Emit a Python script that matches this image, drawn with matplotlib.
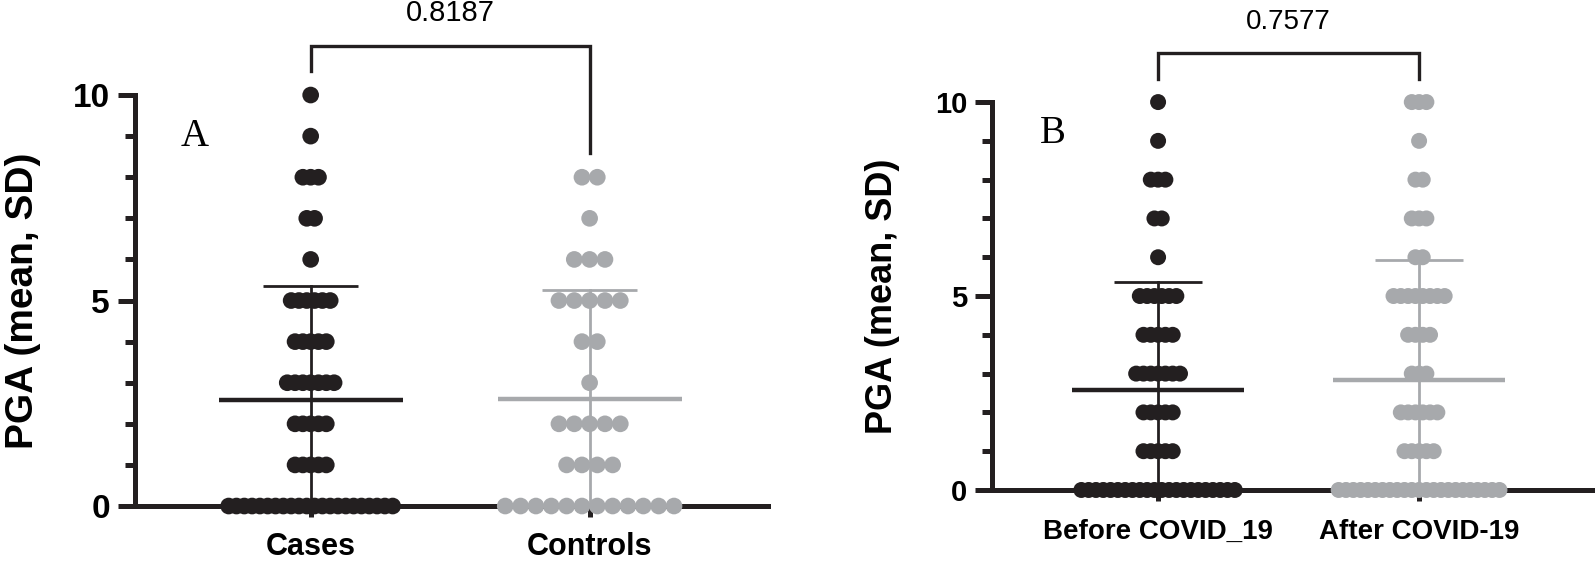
import numpy as np
import matplotlib.pyplot as plt
from matplotlib.ticker import MultipleLocator

# PGA scores: value -> number of dots in that row
pga_values = [10, 9, 8, 7, 6, 5, 4, 3, 2, 1, 0]
cases_counts = [1, 1, 3, 2, 1, 6, 5, 7, 5, 5, 22]
controls_counts = [0, 0, 2, 1, 3, 5, 2, 1, 5, 4, 12]
before_counts = [1, 1, 3, 2, 1, 6, 5, 7, 5, 5, 22]
after_counts = [3, 1, 2, 3, 2, 8, 4, 3, 6, 5, 23]

labels_a = ["Cases", "Controls"]
labels_b = ["Before COVID_19", "After COVID-19"]
p_a = "0.8187"
p_b = "0.7577"

BLACK = "#231f20"
GRAY = "#a7a9ac"

plt.rcParams['font.family'] = ['Liberation Sans', 'DejaVu Sans']


def expand(counts):
    out = []
    for v, c in zip(pga_values, counts):
        out += [v] * c
    return np.array(out, dtype=float)


def dot_column(ax, xpos, counts, color, step, msize):
    xs, ys = [], []
    for v, c in zip(pga_values, counts):
        for i in range(c):
            xs.append(xpos + (i - (c - 1) / 2) * step)
            ys.append(v)
    ax.scatter(xs, ys, s=msize ** 2, color=color, edgecolors='none',
               zorder=3, clip_on=False)
    # mean with SD bar (only the upper whisker shows above zero)
    vals = expand(counts)
    m, sd = vals.mean(), vals.std(ddof=1)
    ax.plot([xpos - 0.33, xpos + 0.33], [m, m], color=color, lw=3.2,
            zorder=4, solid_capstyle='butt')
    ax.plot([xpos, xpos], [max(m - sd, 0), m + sd], color=color, lw=2.0,
            zorder=4)
    ax.plot([xpos - 0.17, xpos + 0.17], [m + sd, m + sd], color=color,
            lw=2.0, zorder=4, solid_capstyle='butt')


def style_axes(ax, xlim, labels, tick_fs, xlab_fs, ylab_fs, ylab_x, xpad):
    ax.set_xlim(*xlim)
    ax.set_ylim(0, 10)
    for s in ['top', 'right']:
        ax.spines[s].set_visible(False)
    for s in ['left', 'bottom']:
        ax.spines[s].set_linewidth(3.6)
        ax.spines[s].set_color(BLACK)
    ax.spines['left'].set_bounds(0, 10)
    ax.yaxis.set_major_locator(MultipleLocator(5))
    ax.yaxis.set_minor_locator(MultipleLocator(1))
    ax.tick_params(axis='y', which='major', length=12, width=3.6,
                   color=BLACK, pad=6, labelsize=tick_fs)
    ax.tick_params(axis='y', which='minor', length=7, width=3.6, color=BLACK)
    ax.set_xticks([1, 2])
    ax.set_xticklabels(labels, fontweight='bold')
    ax.tick_params(axis='x', length=8, width=3.6, color=BLACK, pad=xpad,
                   labelsize=xlab_fs)
    for t in ax.get_yticklabels():
        t.set_fontweight('bold')
    ax.set_ylabel("PGA (mean, SD)", fontsize=ylab_fs, fontweight='bold')
    ax.yaxis.set_label_coords(ylab_x, 0.5)


def bracket(ax, y_top, y_left, y_right, text, fs):
    ax.plot([1, 1, 2, 2], [y_left, y_top, y_top, y_right], color=BLACK,
            lw=2.4, clip_on=False, solid_joinstyle='miter')
    ax.text(1.5, y_top + 0.8, text, ha='center', va='center', fontsize=fs,
            clip_on=False)


fig = plt.figure(figsize=(15.95, 5.63), dpi=100)

# Panel A
ax_a = fig.add_axes([0.0846, 0.1012, 0.397, 0.730])
dot_column(ax_a, 1, cases_counts, BLACK, 0.028, 12)
dot_column(ax_a, 2, controls_counts, GRAY, 0.055, 12)
style_axes(ax_a, (0.37, 2.64), labels_a, 24, 22, 28, -0.149, 11)
bracket(ax_a, 11.2, 10.58, 8.6, p_a, 21)
ax_a.text(0.095, 0.9, "A", transform=ax_a.transAxes, fontsize=28,
          family='Liberation Serif', ha='center', va='center')

# Panel B
ax_b = fig.add_axes([0.622, 0.1297, 0.378, 0.689])
dot_column(ax_b, 1, before_counts, BLACK, 0.028, 11.5)
dot_column(ax_b, 2, after_counts, GRAY, 0.028, 11.5)
style_axes(ax_b, (0.364, 2.674), labels_b, 21, 20, 26, -0.153, 13)
bracket(ax_b, 11.26, 10.6, 10.6, p_b, 20)
ax_b.text(0.1, 0.92, "B", transform=ax_b.transAxes, fontsize=28,
          family='Liberation Serif', ha='center', va='center')

plt.savefig("out.png", dpi=100)
